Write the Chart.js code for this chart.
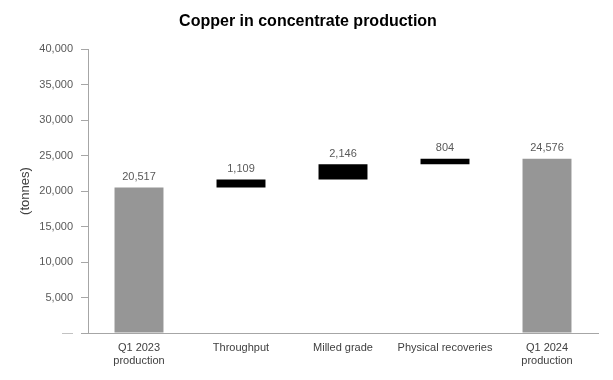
<!DOCTYPE html>
<html><head><meta charset="utf-8">
<script src="https://cdn.jsdelivr.net/npm/chart.js@4/dist/chart.umd.min.js"></script>
<style>html,body{margin:0;padding:0;background:#fff}#wrap{width:613px;height:380px}</style>
</head><body><div id="wrap"><canvas id="c" width="613" height="380"></canvas></div>
<script>
const categories = [["Q1 2023","production"], "Throughput", "Milled grade", "Physical recoveries", ["Q1 2024","production"]];
const values = [20517, 1109, 2146, 804, 24576];
const isTotal = [true, false, false, false, true];
const yTicks = [0, 5000, 10000, 15000, 20000, 25000, 30000, 35000, 40000];

let run = 0;
const ranges = values.map((v, i) => {
  if (isTotal[i]) { run = v; return [0, v]; }
  const r = [run, run + v]; run += v; return r;
});
const fmt = n => n.toLocaleString('en-US');

const labelPlugin = {
  id: 'dl',
  afterDatasetsDraw(chart) {
    const ctx = chart.ctx, meta = chart.getDatasetMeta(0);
    ctx.save();
    ctx.font = '11px "Liberation Sans", Arial, sans-serif';
    ctx.fillStyle = '#595959';
    ctx.textAlign = 'center'; ctx.textBaseline = 'bottom';
    meta.data.forEach((el, i) => {
      const top = Math.min(el.y, el.base);
      ctx.fillText(fmt(values[i]), el.x, top - 5);
    });
    ctx.restore();
  }
};

new Chart(document.getElementById('c'), {
  type: 'bar',
  data: {
    labels: categories,
    datasets: [{
      data: ranges,
      backgroundColor: isTotal.map(t => t ? '#969696' : '#000000'),
      borderWidth: 0,
      barPercentage: 0.48,
      categoryPercentage: 1
    }]
  },
  options: {
    responsive: false,
    animation: false,
    layout: { padding: { left: 18, right: 15, top: 8, bottom: 0 } },
    plugins: {
      legend: { display: false },
      tooltip: { enabled: false },
      title: {
        display: true,
        text: 'Copper in concentrate production',
        color: '#000',
        font: { family: '"Liberation Sans", Arial, sans-serif', size: 16, weight: 'bold' },
        padding: { top: 4, bottom: 18 }
      }
    },
    scales: {
      x: {
        grid: { display: false, drawTicks: false },
        border: { display: true, color: '#a6a6a6', width: 1 },
        ticks: { color: '#404040', font: { family: '"Liberation Sans", Arial, sans-serif', size: 11 }, padding: 8, maxRotation: 0 },
        afterFit(s) { s.height = 47; }
      },
      y: {
        min: 0, max: 40000,
        afterBuildTicks(s) { s.ticks = yTicks.map(v => ({ value: v })); },
        grid: { drawOnChartArea: false, drawTicks: true, tickLength: 7, color: '#a6a6a6' },
        border: { display: true, color: '#a6a6a6', width: 1 },
        ticks: {
          color: ctx => ctx.tick && ctx.tick.value === 0 ? '#b0b0b0' : '#595959',
          font: { family: '"Liberation Sans", Arial, sans-serif', size: 11 },
          padding: 8,
          callback: v => v === 0 ? '\u2014' : fmt(v)
        },
        title: {
          display: true, text: '(tonnes)', color: '#404040',
          font: { family: '"Liberation Sans", Arial, sans-serif', size: 13 },
          padding: 0
        },
        afterFit(s) { s.width = 70; }
      }
    }
  },
  plugins: [labelPlugin]
});
</script>
</body></html>
